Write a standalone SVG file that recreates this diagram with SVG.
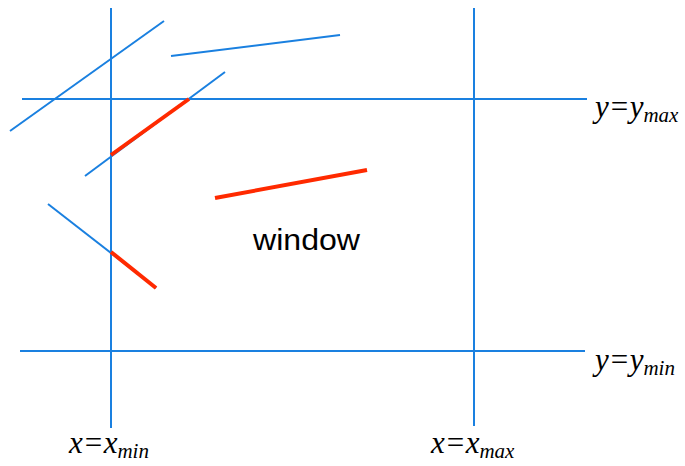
<svg xmlns="http://www.w3.org/2000/svg" width="685" height="466" viewBox="0 0 685 466">
<style>
.b{stroke:#1a80e0;stroke-width:2;fill:none}
.r{stroke:#ff2a00;stroke-width:4;fill:none;stroke-linecap:butt}
.m{font-family:"Liberation Serif",serif;font-style:italic;font-size:31px;fill:#000}
.s{font-size:21px}
.w{font-family:"Liberation Sans",Arial,sans-serif;font-size:30px;fill:#000}
</style>
<rect width="685" height="466" fill="#fff"/>
<g id="connectors">
<line class="b" x1="111" y1="8" x2="111" y2="428"/>
<line class="b" x1="474" y1="8" x2="474" y2="426"/>
<line class="b" x1="22" y1="99" x2="587" y2="99"/>
<line class="b" x1="20" y1="351" x2="585" y2="351"/>
<line class="b" x1="10" y1="131" x2="164" y2="21"/>
<line class="b" x1="171" y1="56" x2="340" y2="35"/>
<line class="b" x1="85" y1="176" x2="225" y2="72"/>
<line class="b" x1="48" y1="204" x2="156" y2="288"/>
<line class="r" x1="111" y1="155" x2="189" y2="99"/>
<line class="r" x1="215" y1="198" x2="367" y2="170"/>
<line class="r" x1="111" y1="252" x2="156" y2="288"/>
</g>
<g id="label-ymax"><text class="m" x="595" y="117">y=y<tspan class="s" dy="5">max</tspan></text></g>
<g id="label-ymin"><text class="m" x="595" y="370">y=y<tspan class="s" dy="5">min</tspan></text></g>
<g id="label-xmin"><text class="m" x="69" y="453">x=x<tspan class="s" dy="5">min</tspan></text></g>
<g id="label-xmax"><text class="m" x="431" y="453">x=x<tspan class="s" dy="5">max</tspan></text></g>
<g id="window"><text class="w" x="253" y="250" textLength="107" lengthAdjust="spacingAndGlyphs">window</text></g>
</svg>
